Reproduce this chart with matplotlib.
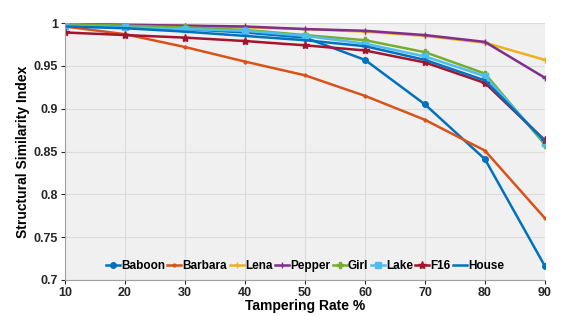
import matplotlib
matplotlib.use('Agg')
import matplotlib.pyplot as plt

plt.rcParams['font.family'] = ['Liberation Sans', 'DejaVu Sans']
plt.rcParams['font.weight'] = 'bold'

rate = [10, 20, 30, 40, 50, 60, 70, 80, 90]
baboon  = [0.997, 0.995, 0.993, 0.989, 0.983, 0.957, 0.905, 0.841, 0.716]
barbara = [0.996, 0.987, 0.972, 0.955, 0.939, 0.915, 0.887, 0.851, 0.772]
lena    = [0.999, 0.998, 0.997, 0.995, 0.993, 0.990, 0.985, 0.977, 0.957]
pepper  = [0.999, 0.998, 0.997, 0.996, 0.993, 0.991, 0.986, 0.978, 0.936]
girl    = [0.999, 0.997, 0.995, 0.992, 0.986, 0.980, 0.966, 0.941, 0.858]
lake    = [0.997, 0.995, 0.993, 0.991, 0.985, 0.976, 0.961, 0.938, 0.860]
f16     = [0.989, 0.986, 0.983, 0.979, 0.974, 0.968, 0.954, 0.930, 0.863]
house   = [0.996, 0.994, 0.990, 0.985, 0.980, 0.973, 0.957, 0.933, 0.862]

series = [
    ('Baboon',  baboon,  '#0072BD', 'o', 4),
    ('Barbara', barbara, '#D95319', '.', 4),
    ('Lena',    lena,    '#EDB120', '+', 4),
    ('Pepper',  pepper,  '#7E2F8E', '+', 4),
    ('Girl',    girl,    '#77AC30', 'P', 5),
    ('Lake',    lake,    '#4DBEEE', 's', 4),
    ('F16',     f16,     '#A2142F', '*', 6),
    ('House',   house,   '#0072BD', None, 0),
]

fig = plt.figure(figsize=(5.86, 3.16), dpi=100)
ax = fig.add_axes([0.111, 0.114, 0.819, 0.813])
ax.set_facecolor('#F0F0F0')

for name, vals, col, mk, ms in series:
    ax.plot(rate, vals, color=col, marker=mk, markersize=ms, linewidth=1.8,
            label=name)

ax.set_xlim(10, 90)
ax.set_ylim(0.7, 1.0)
ax.set_xticks(rate)
ax.set_yticks([0.7, 0.75, 0.8, 0.85, 0.9, 0.95, 1.0])
ax.set_yticklabels(['0.7', '0.75', '0.8', '0.85', '0.9', '0.95', '1'])
ax.grid(True, color='#DCDCDC', linewidth=0.8)
ax.set_axisbelow(True)
for sp in ['top', 'right']:
    ax.spines[sp].set_visible(False)
for sp in ['left', 'bottom']:
    ax.spines[sp].set_color('#A0A0A0')
ax.tick_params(labelsize=9, colors='#262626', length=3, width=0.8, pad=2)
for lbl in ax.get_xticklabels() + ax.get_yticklabels():
    lbl.set_fontweight('bold')
ax.set_xlabel('Tampering Rate %', fontsize=10, fontweight='bold', labelpad=0)
ax.set_ylabel('Structural Similarity Index', fontsize=10, fontweight='bold', labelpad=3)

leg = ax.legend(loc='lower center', ncol=8, frameon=False, fontsize=8.5,
                handlelength=1.2, handletextpad=0.1, columnspacing=0.2,
                bbox_to_anchor=(0.5, -0.01))
for t in leg.get_texts():
    t.set_fontweight('bold')

fig.savefig('out.png', dpi=100)
